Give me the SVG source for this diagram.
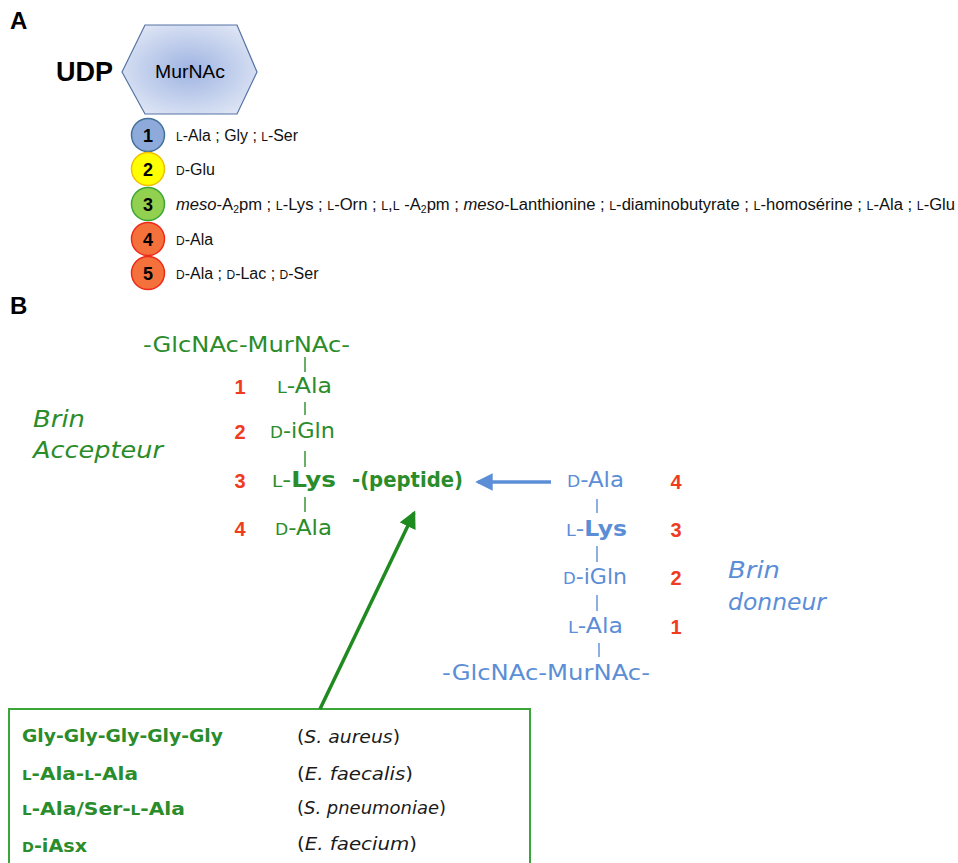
<svg xmlns="http://www.w3.org/2000/svg" width="958" height="863" viewBox="0 0 958 863">
<defs>
<radialGradient id="hexg" cx="50%" cy="50%" r="60%">
<stop offset="0" stop-color="#9fb4e2"/>
<stop offset="1" stop-color="#dfe6f5"/>
</radialGradient>
<marker id="ablue" markerWidth="5" markerHeight="5" refX="4.2" refY="2.5" orient="auto" markerUnits="strokeWidth">
<path d="M0,0 L5,2.5 L0,5 z" fill="#5b8ed6"/>
</marker>
<marker id="agreen" markerWidth="5" markerHeight="5" refX="4.2" refY="2.5" orient="auto" markerUnits="strokeWidth">
<path d="M0,0 L5,2.5 L0,5 z" fill="#1f8a1f"/>
</marker>
</defs>
<style>
.lbl{font-family:"Liberation Sans",Arial,sans-serif;fill:#000}
.panel{font-family:"Liberation Sans",Arial,sans-serif;font-weight:bold;font-size:24px;fill:#000}
.atxt{font-family:"Liberation Sans",Arial,sans-serif;font-size:16px;fill:#111}
.num{font-family:"Liberation Sans",Arial,sans-serif;font-weight:bold;font-size:18px;fill:#000;text-anchor:middle}
.sc{font-size:75%}
.chain{font-family:"DejaVu Sans",Verdana,sans-serif;font-size:22px}
.g{fill:#2a8c2a}
.b{fill:#5b8ed6}
.red{font-family:"Liberation Sans",Arial,sans-serif;font-weight:bold;font-size:20px;fill:#f03c1e;text-anchor:middle}
.brin{font-family:"DejaVu Sans",Verdana,sans-serif;font-style:italic;font-size:23px}
.tick{stroke-width:1.4}
.tg{stroke:#2a8c2a}
.tb{stroke:#5b8ed6}
.box{font-family:"DejaVu Sans",Verdana,sans-serif;font-weight:bold;font-size:18px;fill:#2a8c2a}
.sp{font-family:"DejaVu Sans",Verdana,sans-serif;font-size:18px;fill:#1a1a1a}
.bold{font-weight:bold}
</style>
<rect width="958" height="863" fill="#fff"/>

<text class="panel" x="10" y="29">A</text>
<text class="panel" x="10" y="314">B</text>

<g id="udp">
<text class="lbl" x="56" y="81" font-weight="bold" font-size="28" textLength="57" lengthAdjust="spacingAndGlyphs">UDP</text>
</g>
<g id="murnac-hex">
<polygon points="122,72 145,25 237,25 257,72 237,114 145,114" fill="url(#hexg)" stroke="#5673a3" stroke-width="1.2"/>
<text class="lbl" x="190" y="78" font-size="18" text-anchor="middle" fill="#222" textLength="70" lengthAdjust="spacingAndGlyphs">MurNAc</text>
</g>

<g id="res1">
<circle cx="148" cy="135" r="16.5" fill="#8eaadb" stroke="#41719c" stroke-width="1.5"/>
<text class="num" x="148" y="141.5">1</text>
<text class="atxt" x="176" y="140.5" textLength="122" lengthAdjust="spacingAndGlyphs"><tspan class="sc">L</tspan>-Ala ; Gly ; <tspan class="sc">L</tspan>-Ser</text>
</g>
<g id="res2">
<circle cx="148" cy="169" r="16.5" fill="#ffff00" stroke="#f0c000" stroke-width="1.5"/>
<text class="num" x="148" y="175.5">2</text>
<text class="atxt" x="176" y="174.5"><tspan class="sc">D</tspan>-Glu</text>
</g>
<g id="res3">
<circle cx="148" cy="204" r="16.5" fill="#92d050" stroke="#3aa635" stroke-width="1.5"/>
<text class="num" x="148" y="210.5">3</text>
<text class="atxt" x="176" y="209.5" textLength="779" lengthAdjust="spacingAndGlyphs"><tspan font-style="italic">meso</tspan>-A<tspan font-size="10" dy="3">2</tspan><tspan dy="-3">pm ; </tspan><tspan class="sc">L</tspan>-Lys ; <tspan class="sc">L</tspan>-Orn ; <tspan class="sc">L</tspan>,<tspan class="sc">L</tspan> -A<tspan font-size="10" dy="3">2</tspan><tspan dy="-3">pm ; </tspan><tspan font-style="italic">meso</tspan>-Lanthionine ; <tspan class="sc">L</tspan>-diaminobutyrate ; <tspan class="sc">L</tspan>-homosérine ; <tspan class="sc">L</tspan>-Ala ; <tspan class="sc">L</tspan>-Glu</text>
</g>
<g id="res4">
<circle cx="148" cy="239" r="16.5" fill="#f4713c" stroke="#ee2a1a" stroke-width="1.5"/>
<text class="num" x="148" y="245.5">4</text>
<text class="atxt" x="176" y="244.5"><tspan class="sc">D</tspan>-Ala</text>
</g>
<g id="res5">
<circle cx="148" cy="273" r="16.5" fill="#f4713c" stroke="#ee2a1a" stroke-width="1.5"/>
<text class="num" x="148" y="279.5">5</text>
<text class="atxt" x="176" y="278.5"><tspan class="sc">D</tspan>-Ala ; <tspan class="sc">D</tspan>-Lac ; <tspan class="sc">D</tspan>-Ser</text>
</g>

<g id="acceptor">
<text class="chain g" x="143" y="352" textLength="207" lengthAdjust="spacingAndGlyphs">-GlcNAc-MurNAc-</text>
<text class="red" x="240" y="394">1</text>
<text class="chain g" x="277" y="393" textLength="55" lengthAdjust="spacingAndGlyphs"><tspan class="sc">L</tspan>-Ala</text>
<text class="red" x="240" y="439">2</text>
<text class="chain g" x="270" y="438" textLength="65" lengthAdjust="spacingAndGlyphs"><tspan class="sc">D</tspan>-iGln</text>
<text class="red" x="240" y="488">3</text>
<text class="chain g" x="272" y="487" textLength="64" lengthAdjust="spacingAndGlyphs"><tspan class="sc">L</tspan>-<tspan class="bold">Lys</tspan></text>
<text class="chain g bold" x="352" y="487" textLength="111" lengthAdjust="spacingAndGlyphs">-(peptide)</text>
<text class="red" x="240" y="536">4</text>
<text class="chain g" x="275" y="535" textLength="57" lengthAdjust="spacingAndGlyphs"><tspan class="sc">D</tspan>-Ala</text>
<line class="tick tg" x1="305" y1="357" x2="305" y2="372"/>
<line class="tick tg" x1="305" y1="402" x2="305" y2="415"/>
<line class="tick tg" x1="305" y1="451" x2="305" y2="467"/>
<line class="tick tg" x1="305" y1="497" x2="305" y2="512"/>
</g>
<g id="brin-accepteur">
<text class="brin g" x="33" y="427" textLength="52" lengthAdjust="spacingAndGlyphs">Brin</text>
<text class="brin g" x="33" y="458" textLength="130" lengthAdjust="spacingAndGlyphs">Accepteur</text>
</g>

<g id="donor">
<text class="chain b" x="567" y="487" textLength="57" lengthAdjust="spacingAndGlyphs"><tspan class="sc">D</tspan>-Ala</text>
<text class="red" x="676" y="489">4</text>
<text class="chain b" x="566" y="536" textLength="61" lengthAdjust="spacingAndGlyphs"><tspan class="sc">L</tspan>-<tspan class="bold">Lys</tspan></text>
<text class="red" x="676" y="537">3</text>
<text class="chain b" x="563" y="584" textLength="64" lengthAdjust="spacingAndGlyphs"><tspan class="sc">D</tspan>-iGln</text>
<text class="red" x="676" y="585">2</text>
<text class="chain b" x="568" y="633" textLength="55" lengthAdjust="spacingAndGlyphs"><tspan class="sc">L</tspan>-Ala</text>
<text class="red" x="676" y="634">1</text>
<text class="chain b" x="442" y="680" textLength="208" lengthAdjust="spacingAndGlyphs">-GlcNAc-MurNAc-</text>
<line class="tick tb" x1="597" y1="499" x2="597" y2="513"/>
<line class="tick tb" x1="597" y1="546" x2="597" y2="562"/>
<line class="tick tb" x1="597" y1="595" x2="597" y2="611"/>
<line class="tick tb" x1="599" y1="643" x2="599" y2="657"/>
</g>
<g id="brin-donneur">
<text class="brin b" x="728" y="578" textLength="52" lengthAdjust="spacingAndGlyphs">Brin</text>
<text class="brin b" x="728" y="610" textLength="98" lengthAdjust="spacingAndGlyphs">donneur</text>
</g>

<g id="bridge-box">
<rect x="9" y="709" width="521" height="170" fill="#fff" stroke="#3aa63a" stroke-width="2"/>
<text class="box" x="22" y="742" textLength="201" lengthAdjust="spacingAndGlyphs">Gly-Gly-Gly-Gly-Gly</text>
<text class="box" x="22" y="780" textLength="116" lengthAdjust="spacingAndGlyphs"><tspan class="sc">L</tspan>-Ala-<tspan class="sc">L</tspan>-Ala</text>
<text class="box" x="22" y="815" textLength="163" lengthAdjust="spacingAndGlyphs"><tspan class="sc">L</tspan>-Ala/Ser-<tspan class="sc">L</tspan>-Ala</text>
<text class="box" x="22" y="852" textLength="65" lengthAdjust="spacingAndGlyphs"><tspan class="sc">D</tspan>-iAsx</text>
<text class="sp" x="297" y="743" textLength="103" lengthAdjust="spacingAndGlyphs">(<tspan font-style="italic">S. aureus</tspan>)</text>
<text class="sp" x="297" y="780" textLength="116" lengthAdjust="spacingAndGlyphs">(<tspan font-style="italic">E. faecalis</tspan>)</text>
<text class="sp" x="297" y="814" textLength="149" lengthAdjust="spacingAndGlyphs">(<tspan font-style="italic">S. pneumoniae</tspan>)</text>
<text class="sp" x="297" y="850" textLength="120" lengthAdjust="spacingAndGlyphs">(<tspan font-style="italic">E. faecium</tspan>)</text>
</g>

<g id="connectors">
<line x1="551" y1="482" x2="478" y2="482" stroke="#5b8ed6" stroke-width="3.5" marker-end="url(#ablue)"/>
<line x1="320" y1="709" x2="414" y2="513" stroke="#1f8a1f" stroke-width="3.5" marker-end="url(#agreen)"/>
</g>
</svg>
